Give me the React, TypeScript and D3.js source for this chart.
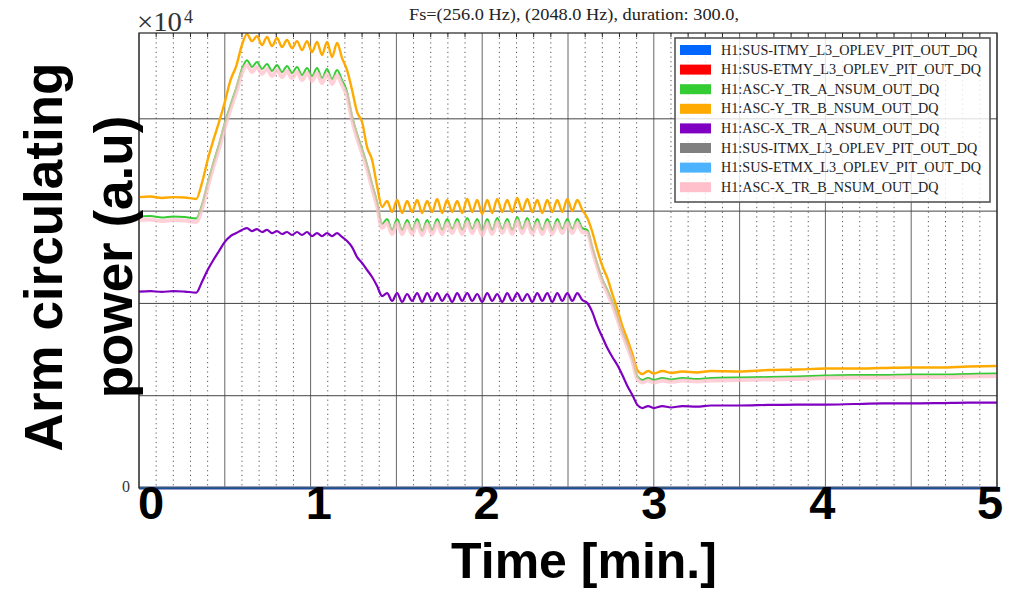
import React from 'react';
import * as d3 from 'd3';

// time in seconds
const times = [
  0, 4, 8, 12, 16, 20,
  22, 24, 26, 28, 30, 32, 34, 36,
  37.75, 39.5, 41.25, 43, 44.75, 46.5, 48.25, 50, 51.75, 53.5, 55.25, 57, 58.75, 60.5, 62.25, 64, 65.75, 67.5, 69.25, 71,
  72.75, 74.5, 76.25, 78, 79.75, 81.5, 83.25,
  85, 86.75, 88.5, 90.25, 92, 93.75, 95.5, 97.25, 99, 100.75, 102.5, 104.25, 106, 107.75, 109.5, 111.25, 113, 114.75, 116.5, 118.25,
  120, 121.75, 123.5, 125.25, 127, 128.75, 130.5, 132.25, 134, 135.75, 137.5, 139.25, 141, 142.75, 144.5, 146.25, 148, 149.75, 151.5, 153.25, 155,
  156.75, 158.5, 160.25, 162, 163.75, 165.5, 167.25, 169, 170.75, 172.5, 174.25,
  176, 178, 180, 183, 186, 190, 195, 200, 210, 220, 230, 240, 250, 260, 270, 280, 290, 300,
];

// values in units of 1e4
const ascYTrB = [
  1.576, 1.579, 1.571, 1.576, 1.574, 1.566,
  1.652, 1.777, 1.885, 1.983, 2.091, 2.210, 2.286, 2.400,
  2.459, 2.421, 2.448, 2.400, 2.443, 2.394, 2.438, 2.389, 2.427, 2.383, 2.421, 2.373, 2.421, 2.362, 2.416, 2.346, 2.416, 2.335, 2.411, 2.329,
  2.264, 2.156, 2.037, 1.983, 1.847, 1.777, 1.636,
  1.522, 1.555, 1.495, 1.560, 1.490, 1.555, 1.495, 1.560, 1.490, 1.555,
  1.495, 1.566, 1.490, 1.560, 1.495, 1.555, 1.490, 1.566, 1.495, 1.560,
  1.484, 1.560, 1.490, 1.566, 1.495, 1.560, 1.495, 1.571, 1.501, 1.566,
  1.495, 1.560, 1.490, 1.560, 1.495, 1.560, 1.495, 1.566, 1.501, 1.560,
  1.506,
  1.463, 1.387, 1.289, 1.203, 1.138, 1.051, 0.970, 0.878, 0.807, 0.726, 0.639,
  0.618, 0.634, 0.620, 0.634, 0.623, 0.631, 0.626, 0.634, 0.631, 0.639, 0.642, 0.647, 0.647, 0.650, 0.653, 0.653, 0.658, 0.661,
];

const ascYTrA = [
  1.471, 1.473, 1.465, 1.471, 1.468, 1.460,
  1.533, 1.652, 1.761, 1.863, 1.977, 2.075, 2.167, 2.270,
  2.318, 2.281, 2.308, 2.270, 2.297, 2.259, 2.291, 2.253, 2.286, 2.248, 2.281, 2.237, 2.275, 2.232, 2.275, 2.221, 2.270, 2.216, 2.264, 2.210,
  2.145, 2.015, 1.918, 1.836, 1.750, 1.647, 1.549,
  1.430, 1.457, 1.398, 1.457, 1.398, 1.452, 1.398, 1.457, 1.392, 1.452,
  1.398, 1.457, 1.398, 1.457, 1.403, 1.457, 1.398, 1.463, 1.403, 1.457,
  1.392, 1.457, 1.398, 1.463, 1.403, 1.457, 1.398, 1.468, 1.403, 1.463,
  1.398, 1.457, 1.398, 1.457, 1.398, 1.457, 1.403, 1.457, 1.403, 1.457,
  1.408,
  1.398, 1.305, 1.213, 1.132, 1.073, 1.008, 0.932, 0.850, 0.780, 0.704, 0.607,
  0.585, 0.596, 0.585, 0.596, 0.588, 0.596, 0.590, 0.596, 0.599, 0.601, 0.604, 0.609, 0.612, 0.612, 0.615, 0.615, 0.618, 0.620,
];

const ascXTrB = [
  1.452, 1.454, 1.446, 1.452, 1.449, 1.441,
  1.511, 1.630, 1.739, 1.841, 1.955, 2.053, 2.145, 2.248,
  2.291, 2.254, 2.281, 2.243, 2.270, 2.232, 2.264, 2.226, 2.259, 2.221, 2.254, 2.210, 2.248, 2.205, 2.248, 2.194, 2.243, 2.189, 2.237, 2.183,
  2.123, 1.993, 1.896, 1.814, 1.728, 1.625, 1.527,
  1.408, 1.435, 1.376, 1.435, 1.376, 1.430, 1.376, 1.435, 1.370, 1.430,
  1.376, 1.435, 1.376, 1.435, 1.381, 1.435, 1.376, 1.441, 1.381, 1.435,
  1.370, 1.435, 1.376, 1.441, 1.381, 1.435, 1.376, 1.446, 1.381, 1.441,
  1.376, 1.435, 1.376, 1.435, 1.376, 1.435, 1.381, 1.435, 1.381, 1.435,
  1.386,
  1.382, 1.289, 1.197, 1.116, 1.057, 0.992, 0.916, 0.834, 0.764, 0.688, 0.591,
  0.572, 0.582, 0.572, 0.582, 0.575, 0.582, 0.577, 0.582, 0.585, 0.588, 0.591, 0.596, 0.599, 0.599, 0.601, 0.601, 0.604, 0.607,
];

const ascXTrA = [
  1.064, 1.067, 1.062, 1.067, 1.064, 1.059,
  1.116, 1.181, 1.235, 1.284, 1.333, 1.365, 1.381, 1.398,
  1.408, 1.392, 1.403, 1.387, 1.398, 1.381, 1.392, 1.376, 1.387, 1.371, 1.387, 1.371, 1.387, 1.365, 1.381, 1.365, 1.381, 1.365, 1.381, 1.360,
  1.338, 1.305, 1.251, 1.219, 1.181, 1.143, 1.094,
  1.040, 1.056, 1.013, 1.056, 1.008, 1.051, 1.013, 1.056, 1.008, 1.056,
  1.013, 1.056, 1.013, 1.051, 1.008, 1.056, 1.013, 1.056, 1.013, 1.051,
  1.008, 1.056, 1.013, 1.051, 1.008, 1.056, 1.013, 1.056, 1.013, 1.051,
  1.008, 1.056, 1.013, 1.056, 1.008, 1.056, 1.013, 1.056, 1.013, 1.056,
  1.018,
  1.002, 0.953, 0.878, 0.818, 0.758, 0.710, 0.666, 0.612, 0.553, 0.504, 0.450,
  0.433, 0.444, 0.433, 0.444, 0.436, 0.444, 0.441, 0.447, 0.447, 0.450, 0.452, 0.452, 0.455, 0.458, 0.458, 0.460, 0.463, 0.463,
];

// the oplev channels sit at zero for the whole span
const zeroTimes = [0, 300];
const zeroValues = [0, 0];

const legendLabels = [
  'H1:SUS-ITMY_L3_OPLEV_PIT_OUT_DQ',
  'H1:SUS-ETMY_L3_OPLEV_PIT_OUT_DQ',
  'H1:ASC-Y_TR_A_NSUM_OUT_DQ',
  'H1:ASC-Y_TR_B_NSUM_OUT_DQ',
  'H1:ASC-X_TR_A_NSUM_OUT_DQ',
  'H1:SUS-ITMX_L3_OPLEV_PIT_OUT_DQ',
  'H1:SUS-ETMX_L3_OPLEV_PIT_OUT_DQ',
  'H1:ASC-X_TR_B_NSUM_OUT_DQ',
];
const legendColors = ['#0066ff', '#ff0000', '#33cc33', '#ffaa00', '#7f00c0', '#808080', '#4db3ff', '#ffc0cb'];

const xTickMinutes = [0, 1, 2, 3, 4, 5];
const xTickLabels = ['0', '1', '2', '3', '4', '5'];
const yGridValues = [0.5, 1.0, 1.5, 2.0];
const yTickLabels = ['0'];
const titleText = 'Fs=(256.0 Hz), (2048.0 Hz), duration: 300.0,';
const xLabel = 'Time [min.]';
const yLabelLines = ['Arm circulating', 'power (a.u)'];

const W = 1016;
const H = 589;
const L = 139, R = 997, T = 33, B = 488;

export default function App() {
  const x = d3.scaleLinear().domain([0, 300]).range([L, R]);
  const y = d3.scaleLinear().domain([0, 2.465]).range([B, T]);
  const labelX = d3.scaleLinear().domain([0, 5]).range([151, 990]);

  const line = d3
    .line<[number, number]>()
    .x((d) => x(d[0]))
    .y((d) => y(d[1]))
    .curve(d3.curveMonotoneX);

  const pts = (ts: number[], vs: number[]) => ts.map((t, i) => [t, vs[i]] as [number, number]);

  const series = [
    { values: pts(zeroTimes, zeroValues), color: legendColors[0], w: 2.5, o: 1 },
    { values: pts(zeroTimes, zeroValues), color: legendColors[1], w: 2.5, o: 1 },
    { values: pts(times, ascYTrA), color: legendColors[2], w: 2, o: 1 },
    { values: pts(times, ascYTrB), color: legendColors[3], w: 2.4, o: 1 },
    { values: pts(times, ascXTrA), color: legendColors[4], w: 2.2, o: 1 },
    { values: pts(zeroTimes, zeroValues), color: legendColors[5], w: 2.5, o: 1 },
    { values: pts(zeroTimes, zeroValues), color: legendColors[6], w: 2.5, o: 1 },
    { values: pts(times, ascXTrB), color: legendColors[7], w: 4, o: 0.75 },
  ];

  const minorTicks = d3.range(0, 301, 6).filter((t) => t % 30 !== 0);
  const majorTicks = d3.range(0, 301, 30);

  const serif = "'Liberation Serif', 'DejaVu Serif', serif";
  const sans = "'Liberation Sans', Arial, sans-serif";

  const legX = 675, legY = 38, legW = 315, legH = 164, rowH = 19.6;

  return (
    <svg width={W} height={H} style={{ position: 'absolute', left: 0, top: 0, background: '#fff' }}>
      <defs>
        <clipPath id="plotclip">
          <rect x={L} y={T - 2} width={R - L} height={B - T + 4} />
        </clipPath>
      </defs>
      <rect x={0} y={0} width={W} height={H} fill="#fff" />
      {minorTicks.map((t) => (
        <line key={'mn' + t} x1={x(t)} x2={x(t)} y1={T} y2={B} stroke="#555" strokeWidth={1} strokeDasharray="1.2,3.5" />
      ))}
      {majorTicks.map((t) => (
        <line key={'mj' + t} x1={x(t)} x2={x(t)} y1={T} y2={B} stroke="#666" strokeWidth={1} />
      ))}
      {yGridValues.map((v) => (
        <line key={'hg' + v} x1={L} x2={R} y1={y(v)} y2={y(v)} stroke="#444" strokeWidth={1} />
      ))}
      {minorTicks.map((t) => (
        <line key={'tt' + t} x1={x(t)} x2={x(t)} y1={T} y2={T + 4} stroke="#222" strokeWidth={1} />
      ))}
      <g clipPath="url(#plotclip)">
        {series.map((s, i) => (
          <path key={'s' + i} d={line(s.values) || ''} fill="none" stroke={s.color} strokeWidth={s.w} strokeOpacity={s.o} strokeLinejoin="round" />
        ))}
      </g>
      <rect x={L} y={T} width={R - L} height={B - T} fill="none" stroke="#222" strokeWidth={1.2} />
      <line x1={L} x2={R} y1={B + 0.5} y2={B + 0.5} stroke="#1a4f9a" strokeWidth={1.2} />

      {/* legend */}
      <rect x={legX} y={legY} width={legW} height={legH} fill="#fff" fillOpacity={0.82} stroke="#555" strokeWidth={1.6} />
      {legendLabels.map((lab, i) => {
        const cy = legY + 12 + i * rowH;
        return (
          <g key={'lg' + i}>
            <rect x={legX + 5} y={cy - 5} width={31} height={10} fill={legendColors[i]} />
            <text x={legX + 46} y={cy + 4.5} fontFamily={serif} fontSize={14.2} fill="#222">
              {lab}
            </text>
          </g>
        );
      })}

      {/* title */}
      <text x={574} y={20} textAnchor="middle" fontFamily={serif} fontSize={16.5} fill="#222" textLength={330} lengthAdjust="spacingAndGlyphs">
        {titleText}
      </text>
      {/* offset label */}
      <text x={137} y={31} fontFamily={serif} fontSize={27} fill="#333" textLength={45} lengthAdjust="spacingAndGlyphs">
        ×10
      </text>
      <text x={184} y={23} fontFamily={serif} fontSize={18} fill="#333">
        4
      </text>
      {yTickLabels.map((lab) => (
        <text key={'yt' + lab} x={126} y={y(0) + 4} textAnchor="middle" fontFamily={serif} fontSize={16} fill="#333">
          {lab}
        </text>
      ))}
      {xTickMinutes.map((m, i) => (
        <text key={'xt' + m} x={labelX(m)} y={519} textAnchor="middle" fontFamily={sans} fontWeight="bold" fontSize={47} fill="#000">
          {xTickLabels[i]}
        </text>
      ))}
      <text x={584} y={578} textAnchor="middle" fontFamily={sans} fontWeight="bold" fontSize={50} fill="#000">
        {xLabel}
      </text>
      {yLabelLines.map((ln, i) => (
        <text
          key={'yl' + i}
          transform={`translate(${62 + i * 70},257) rotate(-90)`}
          textAnchor="middle"
          fontFamily={sans}
          fontWeight="bold"
          fontSize={53}
          fill="#000"
        >
          {ln}
        </text>
      ))}
    </svg>
  );
}
